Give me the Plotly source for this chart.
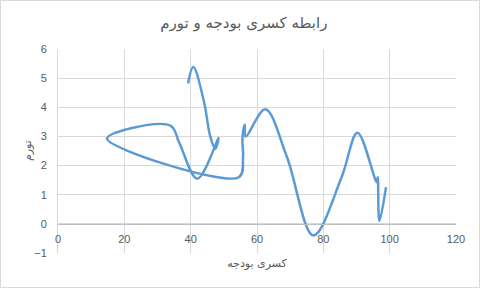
import plotly.graph_objects as go

# Data (order as plotted)
deficit = [39.2, 40.8, 44.0, 45.9, 47.4, 48.4, 42.0, 36.5, 34.0, 22.0, 14.8,
           54.5, 55.8, 55.6, 56.3, 56.6, 62.5, 69.0, 77.0, 85.5, 90.3,
           96.1, 96.4, 96.9, 98.9]
inflation = [4.82, 5.38, 4.2, 3.0, 2.58, 2.95, 1.55, 2.8, 3.36, 3.28, 2.92,
             1.6, 2.3, 2.9, 3.4, 3.0, 3.93, 2.3, -0.4, 1.6, 3.13,
             1.43, 1.6, 0.1, 1.26]

title_text = "رابطه کسری بودجه و تورم"
x_title = "کسری بودجه"
y_title = "تورم"

grid = "#D9D9D9"
txt = "#595959"

fig = go.Figure()
fig.add_trace(go.Scatter(
    x=deficit, y=inflation, mode="lines",
    line=dict(color="#5B9BD5", width=2.5, shape="spline", smoothing=1.0),
    showlegend=False, hoverinfo="skip"))

L, R, T, B = 58, 24, 49, 35
W, H = 480, 288
pw, ph = W - L - R, H - T - B

fig.update_layout(
    width=W, height=H,
    margin=dict(l=L, r=R, t=T, b=B, pad=0),
    paper_bgcolor="white", plot_bgcolor="white",
    font=dict(family="DejaVu Sans", color=txt),
    title=dict(text=title_text, x=0.508, xref="container", xanchor="center",
               y=1 - 23 / H, yref="container", yanchor="middle",
               font=dict(family="DejaVu Sans", size=15, color=txt)),
    xaxis=dict(range=[0, 120], dtick=20, tick0=0, showgrid=True, gridcolor=grid,
               gridwidth=1, zeroline=False, anchor="free", position=1 / 7,
               showline=True, linecolor="#BFBFBF", linewidth=1, ticks="",
               tickfont=dict(family="Liberation Sans", size=11, color=txt),
               ticklabelstandoff=5,
               title=dict(text=x_title, standoff=15,
                          font=dict(family="DejaVu Sans", size=11, color=txt))),
    yaxis=dict(range=[-1, 6], dtick=1, tick0=0, showgrid=True, gridcolor=grid,
               gridwidth=1, zeroline=False, showline=True, linecolor=grid,
               ticks="", ticklabelstandoff=8,
               tickfont=dict(family="Liberation Sans", size=11, color=txt)),
)

fig.add_annotation(text=y_title, xref="paper", yref="paper",
                   x=(27 - L) / pw, y=0.5, xanchor="center", yanchor="middle",
                   textangle=-90, showarrow=False,
                   font=dict(family="DejaVu Sans", size=11, color=txt))

fig.add_shape(type="rect", xref="paper", yref="paper",
              x0=(0.5 - L) / pw, x1=(W - 0.5 - L) / pw,
              y0=-(B - 0.5) / ph, y1=(H - 0.5 - B) / ph,
              line=dict(color=grid, width=1), fillcolor="rgba(0,0,0,0)", layer="below")

fig.write_html("out.html")
